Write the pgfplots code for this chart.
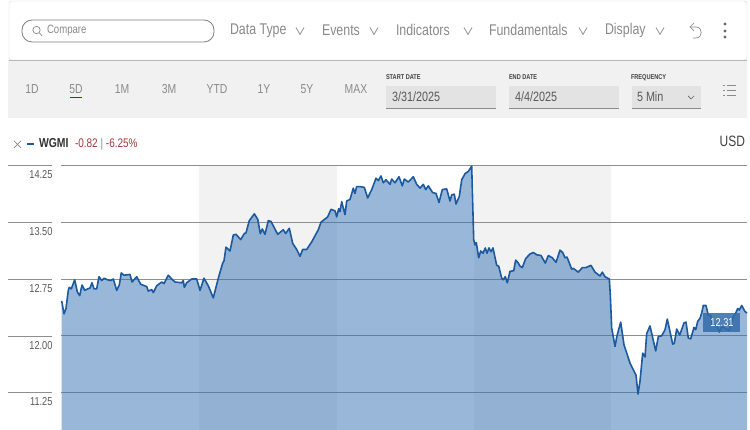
\documentclass[border=0pt]{standalone}
\usepackage{fontspec}
\setmainfont[FakeStretch=0.8]{Liberation Sans}
\usepackage{pgfplots}
\usepackage{pgfplotstable}
\pgfplotsset{compat=1.18}
\definecolor{uigray}{HTML}{8A8A8A}
\definecolor{panel}{HTML}{F1F1F1}
\definecolor{field}{HTML}{E3E3E3}
\definecolor{bandc}{HTML}{F2F2F2}
\definecolor{gridc}{HTML}{8F8F8F}
\definecolor{linec}{HTML}{1B5A9E}
\definecolor{areac}{HTML}{3571B3}
\definecolor{redc}{HTML}{A83A3A}
\pgfplotstableread{
x v
61.7 12.46
64 12.29
66 12.36
68.3 12.60
69.3 12.64
71.3 12.62
74.7 12.74
77.3 12.58
79.7 12.53
82 12.67
84.7 12.60
87.7 12.62
90 12.63
92 12.70
94 12.62
96.7 12.62
99 12.78
101.7 12.73
104.3 12.76
107.3 12.74
110.7 12.73
113.3 12.75
116.7 12.60
119.3 12.67
121.3 12.83
124 12.80
130 12.81
132 12.71
136.7 12.78
140.7 12.68
146.7 12.65
148.3 12.59
151.7 12.61
153.3 12.57
156.7 12.66
161.7 12.71
164 12.69
168.3 12.80
171.7 12.75
175 12.71
181.7 12.70
183.3 12.73
184.3 12.64
186.7 12.70
191.7 12.75
196.7 12.75
200 12.60
204 12.76
208.3 12.66
213.3 12.50
218.3 12.76
222.7 12.96
224 12.99
226 13.17
230 13.12
233.3 13.33
236 13.34
240.7 13.27
244.3 13.35
246 13.36
249.3 13.52
254.3 13.61
257.7 13.54
260.3 13.35
262.3 13.41
265 13.34
268.3 13.52
271 13.51
277.7 13.34
283.3 13.40
285.7 13.35
289.3 13.42
292.7 13.22
296.7 13.14
300 13.05
302.7 13.14
306.7 13.14
311.7 13.24
318.3 13.40
321 13.50
327.7 13.57
331 13.67
335 13.65
336.7 13.57
338.7 13.68
340 13.64
341.7 13.77
345 13.60
346.7 13.78
350 13.80
353.3 13.95
355 13.88
356.7 13.97
360 13.97
364.3 13.96
367.7 13.82
371.7 13.93
376 14.08
378.3 14.05
381 14.11
383.3 14.02
386 14.06
390 14.00
391.7 14.07
395 14.02
399 14.10
402.3 13.98
404.3 14.07
408.3 14.03
413.3 14.10
416.7 14.00
420 13.95
423.3 14.00
425.7 13.93
428.3 13.98
432.7 13.89
436 13.88
439 13.76
442.3 13.93
446.7 13.94
450 13.78
451.7 13.86
454.3 13.87
456 13.74
459.3 13.84
461.7 14.06
465 14.14
468.3 14.17
471.7 14.24
473.7 13.27
475 13.20
476.3 13.23
478.7 13.03
480.7 13.12
483 13.09
485.3 13.16
487 13.09
489 13.16
491 13.11
493 13.16
496.7 12.93
498.7 12.92
501.7 12.76
503.3 12.74
505.3 12.78
507.3 12.70
510 12.85
513.7 12.86
515.7 13.00
518.3 12.96
520 12.92
522.3 12.90
525.7 13.02
530 13.08
533.3 13.10
536.7 13.07
541 13.06
545.3 12.96
548.3 13.06
552.3 13.03
556 12.97
560 13.13
562.7 13.10
565 13.03
567 13.04
571.7 12.88
573.3 12.89
578.3 12.84
582.3 12.90
585.7 12.90
591 12.93
595 12.84
600 12.79
602.3 12.84
605 12.78
609.3 12.75
610.3 12.54
611.7 12.10
615 11.86
617 12.00
620.7 12.18
624 11.88
630 11.64
636 11.48
638 11.23
640 11.40
642.7 11.77
645 11.72
646.7 12.03
650 12.13
655.7 11.80
658.3 11.99
661.7 12.00
665 12.08
667.3 12.22
672.7 11.89
674.3 11.90
676.7 12.09
679.7 12.01
684 12.17
686 12.18
688.3 11.97
690.7 11.96
694 12.11
695.7 12.08
697.7 12.19
700 12.23
701.7 12.30
703.3 12.40
706 12.40
708.3 12.27
710.7 12.27
712.3 12.14
716.7 12.14
719.3 12.05
721.7 12.12
725 12.10
729 12.07
731 12.17
734 12.27
735.7 12.30
737.7 12.36
739.3 12.34
741.7 12.40
745 12.32
747 12.30
}\wgmi
\newcommand{\ui}[4][west]{\node[anchor=#1,inner sep=0pt,outer sep=0pt] at (#2,#3) {\vphantom{Ag}#4};}
\newcommand{\chev}[2]{\draw[uigray,line width=.7pt] (#1-4,#2-3.5)--(#1,#2+3.5)--(#1+4,#2-3.5);}
\begin{document}
\begin{tikzpicture}
\useasboundingbox (0pt,0pt) rectangle (750pt,430pt);
\fill[white] (0pt,0pt) rectangle (750pt,430pt);
\begin{scope}[x=1pt,y=-1pt,yshift=430pt]
% toolbar panels
\draw[black!15,fill=white,rounded corners=3pt] (9,1) rectangle (747,60);
\fill[panel] (8,60) rectangle (747,118);
\draw[black!28,line width=.8pt] (9,60)--(747,60);
\draw[black!50,line width=.8pt,rounded corners=10pt] (22,20) rectangle (214,42);
\draw[uigray,line width=.7pt] (36.5,30) circle (3.7);
\draw[uigray,line width=.7pt] (39.2,32.8)--(42,35.8);
\ui{47}{31}{\color{uigray}\fontsize{12}{13}\selectfont Compare}
\ui{230}{31}{\color{uigray}\fontsize{15.5}{16}\selectfont Data Type}
\chev{300}{31}
\ui{322}{31}{\color{uigray}\fontsize{15.5}{16}\selectfont Events}
\chev{374}{31}
\ui{396}{31}{\color{uigray}\fontsize{15.5}{16}\selectfont Indicators}
\chev{468}{31}
\ui{489}{31}{\color{uigray}\fontsize{15.5}{16}\selectfont Fundamentals}
\chev{583}{31}
\ui{605}{31}{\color{uigray}\fontsize{15.5}{16}\selectfont Display}
\chev{660}{31}
\draw[uigray,line width=.7pt] (690,27)--(696,27) .. controls (703,27) and (703,38) .. (696,38)--(693,38);
\draw[uigray,line width=.7pt] (694,23)--(690,27)--(694,31);
\foreach \yy in {24,31,37}{\fill[black!60] (725,\yy) circle (1.6);}
% ranges
\foreach \t/\xx in {1D/32,5D/76,1M/122,3M/169,YTD/217,1Y/264,5Y/307,MAX/356}{
\node[inner sep=0pt] at (\xx,89) {\color{uigray}\fontsize{13}{14}\selectfont \t};}
\draw[red!80!black,line width=1pt] (70,97.5)--(82,97.5);
\ui{386}{77.5}{\color{black!75}\fontsize{7}{8}\selectfont\bfseries START DATE}
\ui{509}{77.5}{\color{black!75}\fontsize{7}{8}\selectfont\bfseries END DATE}
\ui{631}{77.5}{\color{black!75}\fontsize{7}{8}\selectfont\bfseries FREQUENCY}
\foreach \a/\b in {386/496,509/619,632/701}{
\fill[field] (\a,86) rectangle (\b,108);
\draw[uigray,line width=.7pt] (\a,108)--(\b,108);}
\ui{392}{97.5}{\color{black!65}\fontsize{13.5}{14}\selectfont 3/31/2025}
\ui{515}{97.5}{\color{black!65}\fontsize{13.5}{14}\selectfont 4/4/2025}
\ui{637}{97.5}{\color{black!65}\fontsize{13.5}{14}\selectfont 5 Min}
\draw[black!60,line width=.7pt] (688,96)--(691,99)--(694,96);
\foreach \yy in {85,90,95}{
\draw[uigray,line width=.6pt] (723,\yy)--(725,\yy);
\draw[uigray,line width=.6pt] (727,\yy)--(736,\yy);}
% legend
\draw[uigray,line width=.7pt] (14,141)--(21,148);
\draw[uigray,line width=.7pt] (14,148)--(21,141);
\draw[linec,line width=2pt] (27,144.5)--(34,144.5);
\ui{39}{144}{\color{black!80}\fontsize{13}{14}\selectfont\bfseries WGMI}
\ui{75}{144}{\fontsize{12.5}{13}\selectfont\color{redc}-0.82 \color{uigray}| \color{redc}-6.25\%}
\ui[east]{745}{142}{\color{black!75}\fontsize{15}{16}\selectfont USD}
% session bands
\fill[bandc] (199,165.4) rectangle (336.7,430);
\fill[bandc] (474,165.4) rectangle (611,430);
% tick stubs
\foreach \yy in {165.4,222.3,279,336.3,392.7}{\draw[gridc,line width=.8pt] (8,\yy)--(52,\yy);}
\end{scope}
\begin{axis}[
  at={(61pt,0pt)},anchor=south west,
  scale only axis,width=686pt,height=264.6pt,
  xmin=61,xmax=747,ymin=10.756,ymax=14.25,
  clip=false,
  axis line style={draw=none},
  major tick length=0pt,
  xtick=\empty,
  ytick={11.25,12,12.75,13.5,14.25},
  ymajorgrids,
  grid style={gridc,line width=.8pt},
  /pgf/number format/assume math mode=true,
  /pgf/number format/fixed,
  /pgf/number format/fixed zerofill,
  /pgf/number format/precision=2,
  yticklabel style={anchor=east,xshift=-5pt,yshift=-9.3pt,font=\fontsize{11.5}{12}\selectfont,text=black!65},
]
\addplot[draw=none,fill=areac,fill opacity=.5] table[x=x,y=v] {\wgmi} \closedcycle;
\addplot[linec,line width=1.6pt,line join=round] table[x=x,y=v] {\wgmi};
\end{axis}
\begin{scope}[x=1pt,y=-1pt,yshift=430pt]
\fill[fill=areac!95!black,fill opacity=.85] (703,313.5) rectangle (740,332);
\node[inner sep=0pt] at (722,323) {\color{white}\fontsize{11.5}{12}\selectfont 12.31};
\end{scope}
\end{tikzpicture}
\end{document}
